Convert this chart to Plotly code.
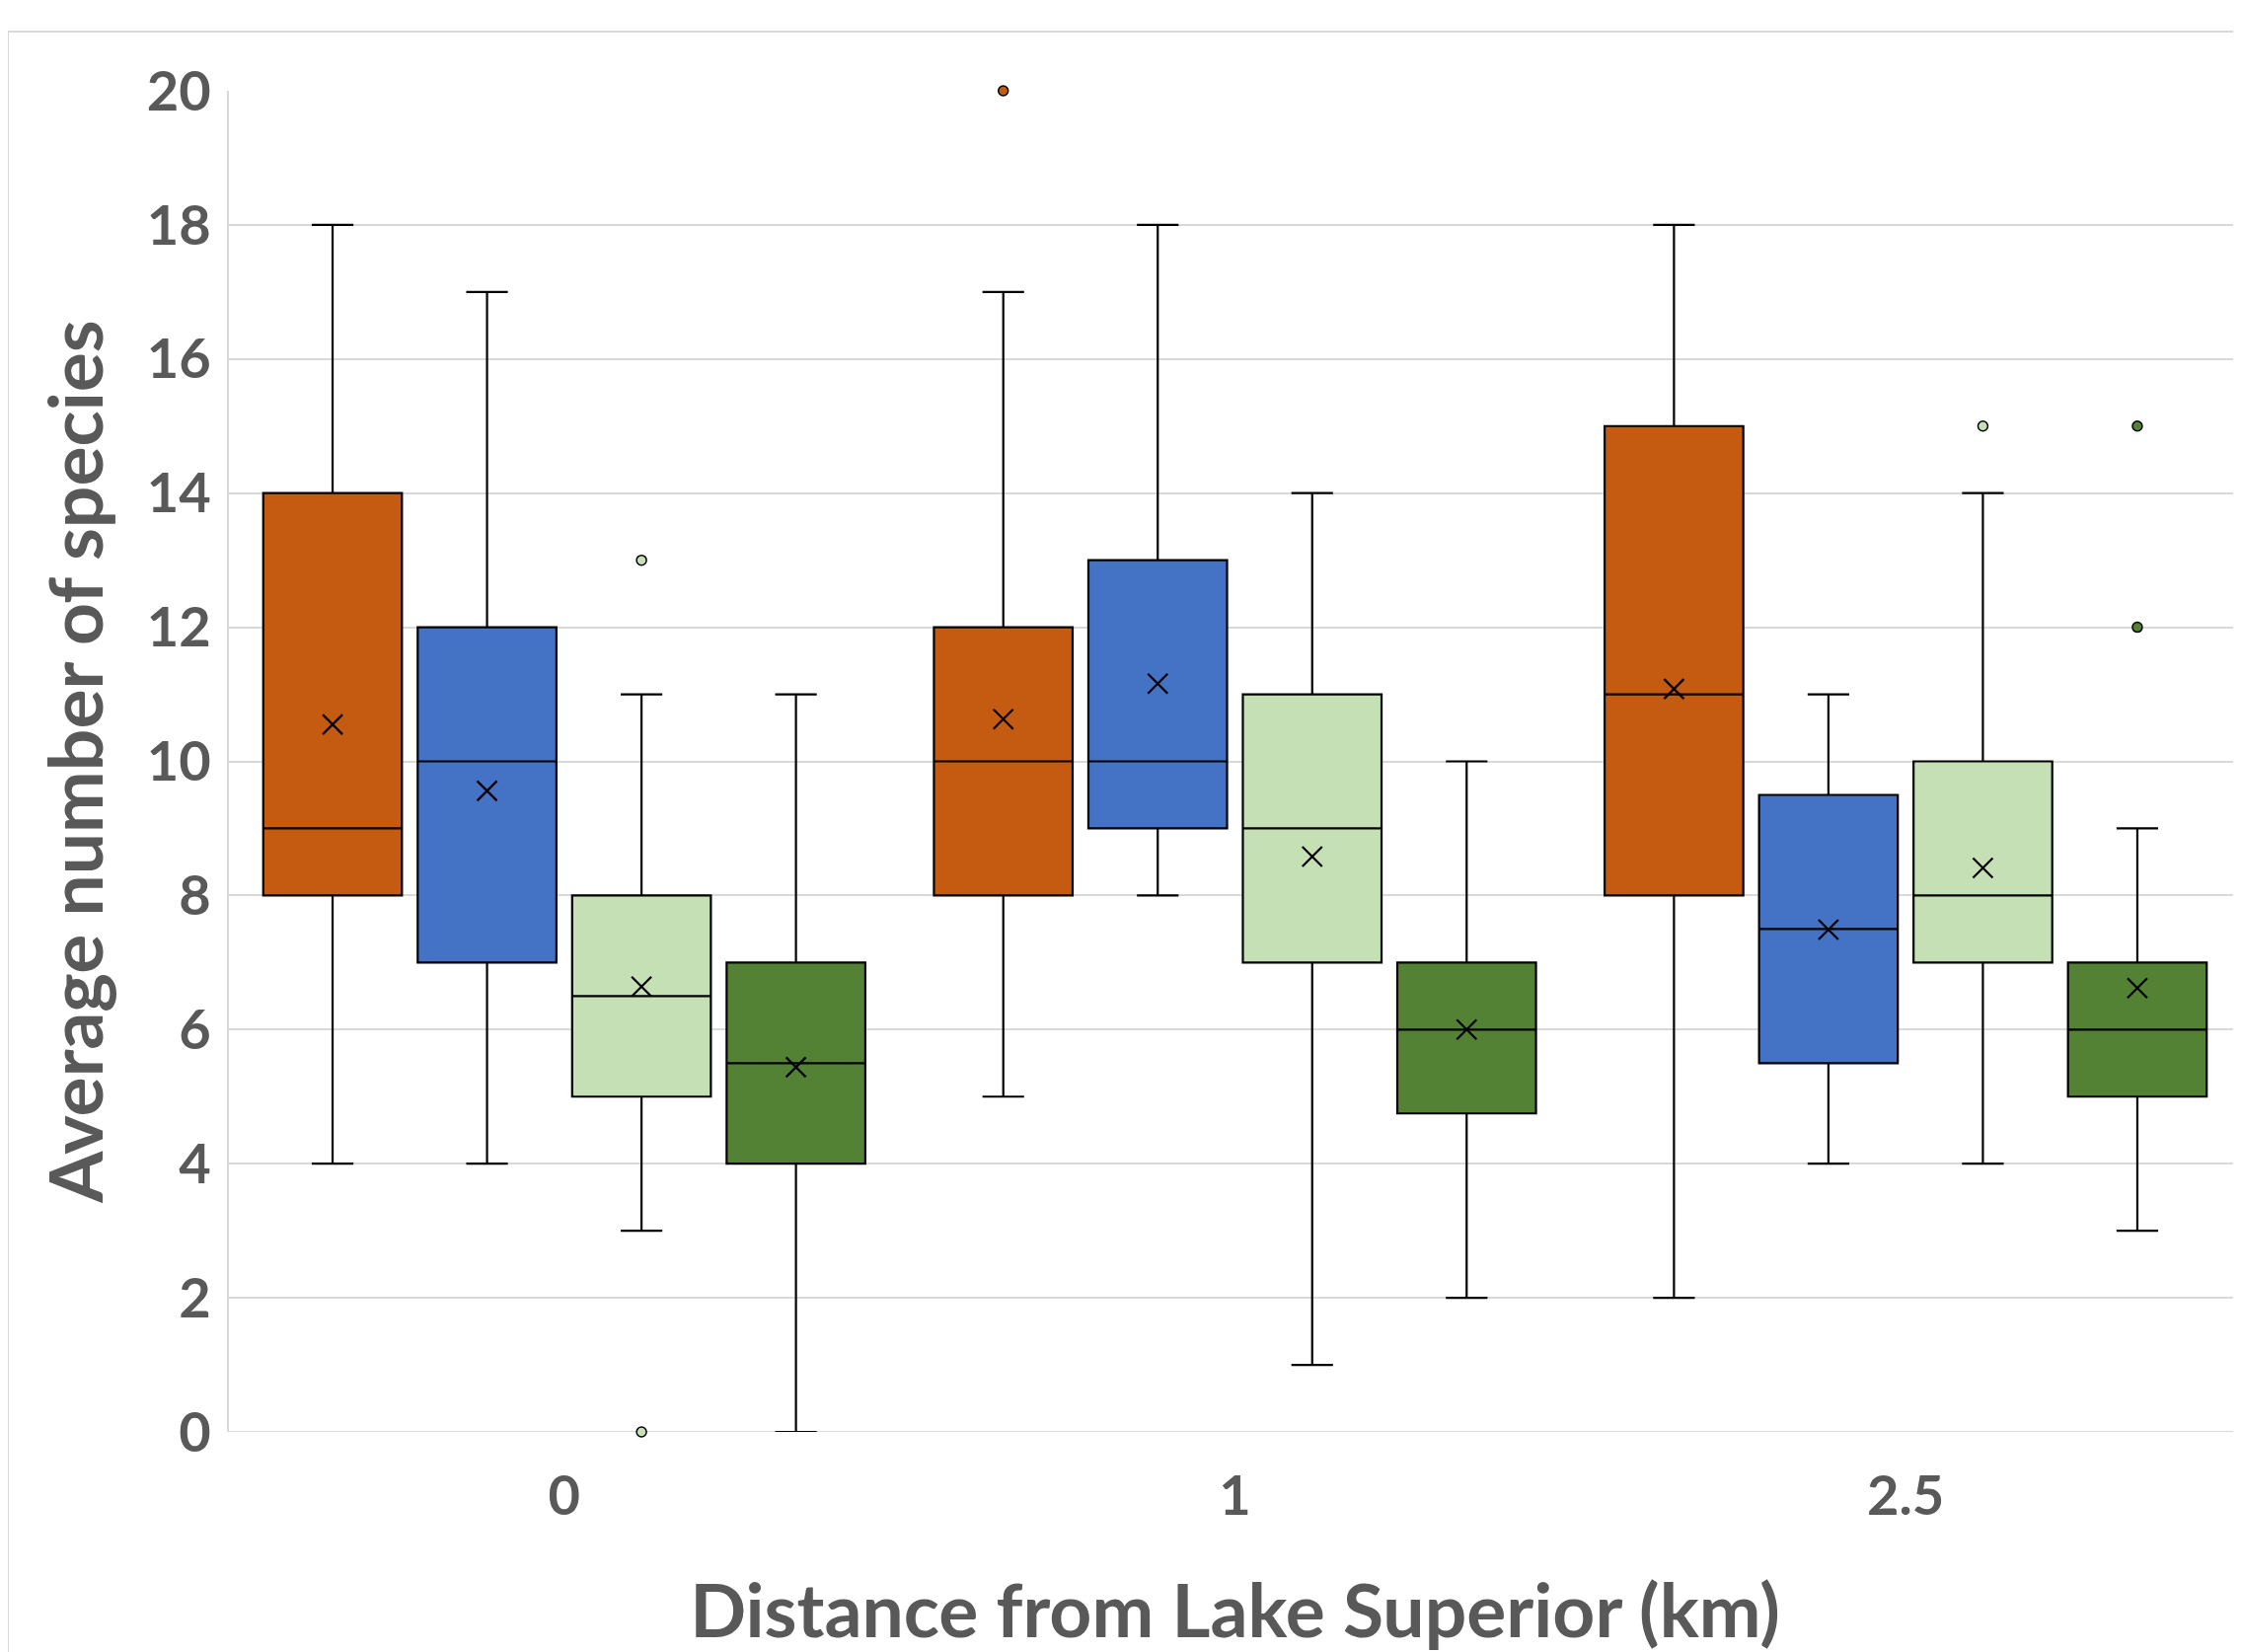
import plotly.graph_objects as go

categories = ["0", "1", "2.5"]
series_names = ["Series A", "Series B", "Series C", "Series D"]
colors = ["#C55A11", "#4472C4", "#C5E0B4", "#548235"]

lower = [[4, 5, 2], [4, 8, 4], [3, 1, 4], [0, 2, 3]]
q1 = [[8, 8, 8], [7, 9, 5.5], [5, 7, 7], [4, 4.75, 5]]
median = [[9, 10, 11], [10, 10, 7.5], [6.5, 9, 8], [5.5, 6, 6]]
q3 = [[14, 12, 15], [12, 13, 9.5], [8, 11, 10], [7, 7, 7]]
upper = [[18, 17, 18], [17, 18, 11], [11, 14, 14], [11, 10, 9]]
mean = [[10.55, 10.63, 11.08], [9.56, 11.16, 7.49], [6.64, 8.58, 8.41], [5.44, 6.0, 6.62]]
outliers = [  # (series index, category index, value)
    (0, 1, 20),
    (2, 0, 13), (2, 0, 0),
    (2, 2, 15),
    (3, 2, 15), (3, 2, 12),
]

SPACING = 0.2303
BOXW = 0.2068
cat_pos = list(range(len(categories)))

fig = go.Figure()
for s, name in enumerate(series_names):
    off = (s - 1.5) * SPACING
    xs = [c + off for c in cat_pos]
    fig.add_trace(go.Box(
        x=xs, q1=q1[s], median=median[s], q3=q3[s],
        lowerfence=lower[s], upperfence=upper[s],
        width=BOXW, whiskerwidth=0.3,
        fillcolor=colors[s], line=dict(color="black", width=2.2),
        boxpoints=False, name=name, showlegend=False, hoverinfo="skip",
    ))
    fig.add_trace(go.Scatter(
        x=xs, y=mean[s], mode="markers",
        marker=dict(symbol="x-thin", size=20, color="black",
                    line=dict(color="black", width=2.2)),
        showlegend=False, hoverinfo="skip",
    ))
    ox = [c + off for (si, c, v) in outliers if si == s]
    oy = [v for (si, c, v) in outliers if si == s]
    if ox:
        fig.add_trace(go.Scatter(
            x=ox, y=oy, mode="markers",
            marker=dict(symbol="circle", size=10, color=colors[s],
                        line=dict(color="black", width=1.5)),
            showlegend=False, hoverinfo="skip", cliponaxis=False,
        ))

ML, MT, MB, MR = 224, 84, 231, 8
PW = 2271 - ML - MR
PH = 1674 - MT - MB
fig.add_shape(type="rect", xref="paper", yref="paper",
              x0=(0 - ML) / PW, x1=1.03, y0=-0.3, y1=1 + (MT - 24) / PH,
              line=dict(color="#D9D9D9", width=2), layer="below")

font_family = "Lato, Open Sans, sans-serif"
fig.update_layout(
    width=2271, height=1674,
    margin=dict(l=ML, r=MR, t=MT, b=MB, autoexpand=False),
    paper_bgcolor="white", plot_bgcolor="white",
    font=dict(family=font_family, color="#595959"),
    xaxis=dict(
        range=[-0.5, 2.5], tickvals=cat_pos, ticktext=categories,
        showgrid=False, zeroline=False, showline=False, ticks="",
        automargin=False, ticklabelstandoff=27,
        tickfont=dict(size=56, family=font_family, color="#595959", weight="bold"),
        title=dict(text="Distance from Lake Superior (km)", standoff=60,
                   font=dict(size=75, family=font_family, color="#595959", weight="bold")),
    ),
    yaxis=dict(
        range=[0, 20], dtick=2, showgrid=True, gridcolor="#D9D9D9", gridwidth=2,
        zeroline=False, showline=True, linecolor="#D9D9D9", linewidth=2,
        ticks="", ticklabelstandoff=5, automargin=False,
        tickfont=dict(size=56, family=font_family, color="#595959", weight="bold"),
        title=dict(text="Average number of species", standoff=20,
                   font=dict(size=75, family=font_family, color="#595959", weight="bold")),
    ),
)
fig.add_shape(type="line", xref="paper", yref="y", x0=0, x1=1, y0=0, y1=0,
              line=dict(color="#D9D9D9", width=2), layer="below")

fig.write_html("out.html")
